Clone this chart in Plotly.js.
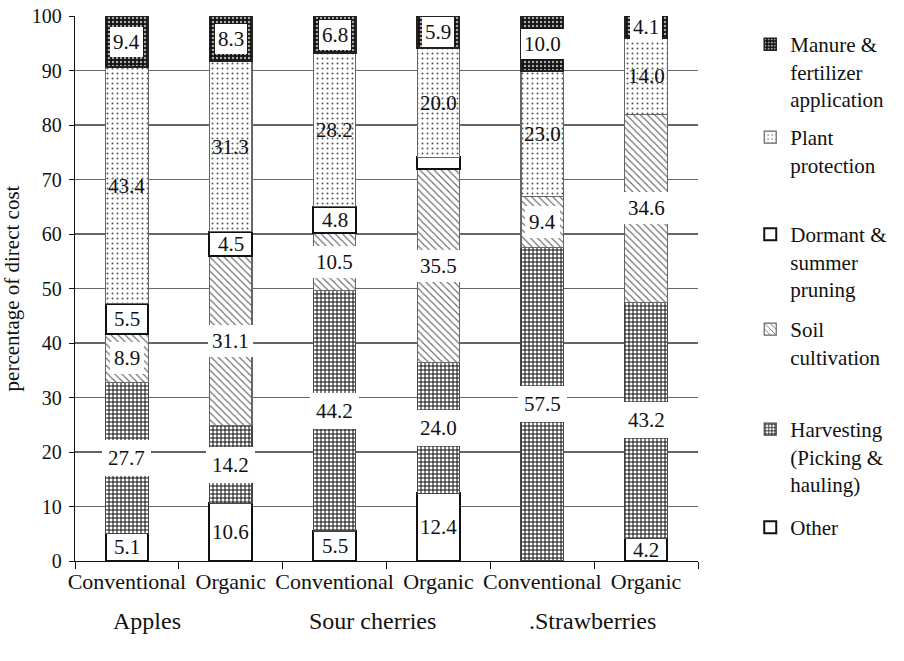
<!DOCTYPE html>
<html>
<head>
<meta charset="utf-8">
<script src="https://cdn.plot.ly/plotly-3.0.1.min.js"></script>
<style>html,body{margin:0;padding:0;background:#fff;}#chart{width:904px;height:661px;}</style>
</head>
<body>
<div id="chart"></div>
<script>
// ---- data ----
const crops = ['Apples', 'Sour cherries', '.Strawberries'];
const systems = ['Conventional', 'Organic', 'Conventional', 'Organic', 'Conventional', 'Organic'];
const other      = [5.1, 10.6, 5.5, 12.4, 0, 4.2];
const harvesting = [27.7, 14.2, 44.2, 24.0, 57.5, 43.2];
const soil       = [8.9, 31.1, 10.5, 35.5, 9.4, 34.6];
const dormant    = [5.5, 4.5, 4.8, 2.2, 0, 0];
const plant      = [43.4, 31.3, 28.2, 20.0, 23.0, 14.0];
const manure     = [9.4, 8.3, 6.8, 5.9, 10.0, 4.1];
const seriesNames = ['Other', 'Harvesting<br>(Picking &<br>hauling)', 'Soil<br>cultivation',
  'Dormant &<br>summer<br>pruning', 'Plant<br>protection', 'Manure &<br>fertilizer<br>application'];

// category keys (unique per bar)
const xKeys = systems.map((s, i) => crops[Math.floor(i / 2)] + ' ' + s);
const seriesValues = [other, harvesting, soil, dormant, plant, manure];

// ---- styles ----
const FONT = 'Liberation Serif';
const patterns = [
  {shape: '', bgcolor: '#ffffff'},
  {shape: '+', fgcolor: '#000000', bgcolor: '#ffffff', size: 4, solidity: 0.42},
  {shape: '\\', fgcolor: '#6a6a6a', bgcolor: '#ffffff', size: 5, solidity: 0.22},
  {shape: '', bgcolor: '#ffffff'},
  {shape: '.', fgcolor: '#555555', bgcolor: '#ffffff', size: 5, solidity: 0.12},
  {shape: '.', fgcolor: '#aaaaaa', bgcolor: '#111111', size: 4, solidity: 0.3}
];
const lineW = [2, 1.2, 1.2, 2, 1.2, 1.5];
const lineC = ['#111', '#444', '#666', '#111', '#666', '#222'];
// label box style per series
const labelBg = ['rgba(0,0,0,0)', '#ffffff', '#ffffff', 'rgba(0,0,0,0)', 'rgba(0,0,0,0)', '#ffffff'];
const labelPad = [1, 6, 4, 1, 1, 3];

const legendY = [40, 133, 230, 325, 425, 523].reverse();

const traces = seriesValues.map((vals, k) => ({
  type: 'bar',
  x: xKeys,
  y: vals,
  name: seriesNames[k],
  legend: k === 0 ? 'legend' : 'legend' + (k + 1),
  marker: {
    color: '#ffffff',
    pattern: Object.assign({fillmode: 'replace'}, patterns[k]),
    line: {color: lineC[k], width: lineW[k]}
  },
  hoverinfo: 'skip'
}));

const L = 75, R = 731, T = 16, B = 561;
const W = R - L, H = B - T;

// labels computed from the data
const annotations = [];
xKeys.forEach((key, i) => {
  let base = 0;
  seriesValues.forEach((vals, k) => {
    const v = vals[i];
    if (v >= 3) {
      annotations.push({
        x: key, y: base + v / 2, xref: 'x', yref: 'y',
        text: v.toFixed(1), showarrow: false,
        font: {family: FONT, size: 21, color: '#111'},
        bgcolor: labelBg[k], borderpad: labelPad[k], borderwidth: 0
      });
    }
    base += v;
  });
});

// group labels below
const groupX = [151, 388, 620];
crops.forEach((c, j) => {
  annotations.push({
    x: (groupX[j] - L) / W, y: (B - 621) / H, xref: 'paper', yref: 'paper',
    xanchor: 'center', yanchor: 'middle',
    text: c, showarrow: false, font: {family: FONT, size: 24, color: '#111'}
  });
});

const layout = {
  width: 904, height: 661,
  margin: {l: L, r: 904 - R, t: T, b: 661 - B},
  paper_bgcolor: '#fff', plot_bgcolor: '#fff',
  barmode: 'stack', bargap: 0.59,
  font: {family: FONT, color: '#111'},
  xaxis: {
    type: 'category', tickvals: xKeys, ticktext: systems, tickson: 'boundaries', tickangle: 0,
    ticks: 'outside', ticklen: 7, tickcolor: '#111', showline: true, linecolor: '#111', linewidth: 1.2,
    showgrid: false, tickfont: {family: FONT, size: 22, color: '#111'}
  },
  yaxis: {
    range: [0, 100], dtick: 10, ticks: 'outside', ticklen: 5, tickcolor: '#111',
    showline: true, linecolor: '#111', linewidth: 1.2, ticklabelstandoff: 3,
    showgrid: true, gridcolor: '#666', gridwidth: 1.2, zeroline: false,
    tickfont: {family: FONT, size: 20, color: '#111'},
    title: {text: 'percentage of direct cost', font: {family: FONT, size: 21, color: '#111'}, standoff: 6}
  },
  annotations: annotations,
  showlegend: true
};
seriesValues.forEach((v, k) => {
  const name = k === 0 ? 'legend' : 'legend' + (k + 1);
  layout[name] = {
    x: (786 - L) / W, xanchor: 'left',
    y: (B - (legendY[k] - 16)) / H, yanchor: 'top',
    bgcolor: 'rgba(0,0,0,0)', borderwidth: 0, valign: 'top',
    font: {family: FONT, size: 21, color: '#111'}
  };
});

Plotly.newPlot('chart', traces, layout, {displayModeBar: false, staticPlot: true});
</script>
</body>
</html>
